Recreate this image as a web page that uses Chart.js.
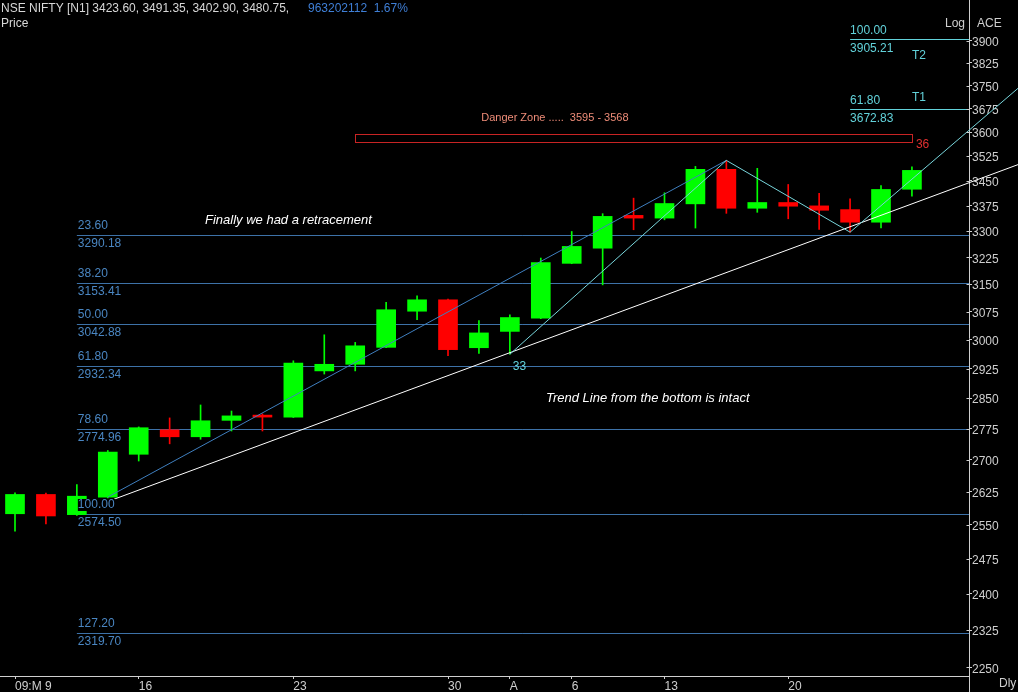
<!DOCTYPE html>
<html><head><meta charset="utf-8">
<script src="https://cdn.jsdelivr.net/npm/chart.js@4.4.1/dist/chart.umd.min.js"></script>
<style>
html,body{margin:0;padding:0;background:#000;overflow:hidden}
#wrap{position:relative;width:1018px;height:692px;background:#000}
canvas{display:block}
</style></head>
<body><div id="wrap"><canvas id="c" width="1018" height="692"></canvas></div>
<script>
// ---- data (NSE NIFTY [N1], daily) ----
const dates  = ['2009-03-09','2009-03-10','2009-03-12','2009-03-13','2009-03-16','2009-03-17','2009-03-18','2009-03-19','2009-03-20','2009-03-23',
                '2009-03-24','2009-03-25','2009-03-26','2009-03-27','2009-03-30','2009-03-31','2009-04-01','2009-04-02','2009-04-06','2009-04-08',
                '2009-04-09','2009-04-13','2009-04-15','2009-04-16','2009-04-17','2009-04-20','2009-04-21','2009-04-22','2009-04-23','2009-04-24'];
const opens  = [2575,2619,2573,2613,2713,2772,2755,2795,2807,2803, 2919,2936,2980,3076,3107,2979,3022,3057,3208,3251, 3346,3338,3380,3484,3367,3384,3374,3363,3326,3423.60];
const highs  = [2623,2622,2642,2722,2779,2801,2833,2818,2811,2945, 3013,2993,3100,3118,3109,3051,3066,3223,3299,3351, 3397,3413,3493,3511.3,3487,3438,3411,3395,3435,3491.35];
const lows   = [2536,2552,2571,2611,2697,2738,2749,2769,2769,2802, 2911,2919,2979,3053,2958,2964,2962,3056,3207,3148, 3304,3333,3309,3352,3355,3336,3305,3297,3309,3402.90];
const closes = [2619,2570,2615,2718,2777,2755,2794,2806,2803,2939, 2936,2984,3080,3107,2974,3018,3059,3210,3256,3343, 3338,3381,3484,3367,3384,3373,3361,3326,3423,3480.75];

const xTickIndex  = [0,4,9,14,16,18,21,25];
const xTickLabels = ['09:M 9','16','23','30','A','6','13','20'];
const yTicks = [2250,2325,2400,2475,2550,2625,2700,2775,2850,2925,3000,3075,3150,3225,3300,3375,3450,3525,3600,3675,3750,3825,3900];

const fibLevels = ['23.60','38.20','50.00','61.80','78.60','100.00','127.20'];
const fibPrices = [3290.18,3153.41,3042.88,2932.34,2774.96,2574.50,2319.70];
const fibStartIndex = 2;

const targetLevels = ['100.00','61.80'];
const targetPrices = [3905.21,3672.83];
const targetNames  = ['T2','T1'];
const targetStartIndex = 27;

const dangerZone = [3595,3568];
const dangerRange = [11,29];

const zigzagX = [16,23,27,29];
const zigzagY = [2962,3511.3,3297,3454];
const channelX = [3,23];
const channelY = [2613,3511.3];
const trendX = [3.2,16];
const trendY = [2608,2966];

const FONT = "'Liberation Sans', Arial, sans-serif";
const GREY = '#cfcfcf';
const FIB_LINE = '#3d72a8';
const FIB_TEXT = '#4a86c2';
const CYAN = '#62d2da';

const bodyData = opens.map((o,i)=>({x:i, y:[o, closes[i]]}));
const wickData = opens.map((o,i)=>({x:i, y:[lows[i], highs[i]]}));
const candleColors = opens.map((o,i)=> closes[i] >= o ? '#00ff00' : '#ff0000');

function txt(ctx, s, x, y, color, size, align, italic){
  ctx.save();
  ctx.font = (italic?'italic ':'') + size + 'px ' + FONT;
  ctx.fillStyle = color;
  ctx.textAlign = align || 'left';
  ctx.textBaseline = 'middle';
  ctx.fillText(s, x, y);
  ctx.restore();
}
function boxedTxt(ctx, s, x, y, color){
  ctx.save();
  ctx.font = '12px ' + FONT;
  const w = ctx.measureText(s).width;
  ctx.fillStyle = '#000';
  ctx.fillRect(x, y-6, w+1, 12);
  ctx.fillStyle = color;
  ctx.textAlign = 'left';
  ctx.textBaseline = 'middle';
  ctx.fillText(s, x, y);
  ctx.restore();
}

const overlay = {
  id:'overlay',
  beforeDatasetsDraw(chart){
    const ctx = chart.ctx, xs = chart.scales.x, ys = chart.scales.y, ca = chart.chartArea;
    ctx.save();
    ctx.lineWidth = 1;
    ctx.strokeStyle = FIB_LINE;
    fibPrices.forEach(p=>{
      const y = Math.round(ys.getPixelForValue(p)) + 0.5;
      ctx.beginPath(); ctx.moveTo(xs.getPixelForValue(fibStartIndex), y); ctx.lineTo(ca.right, y); ctx.stroke();
    });
    ctx.strokeStyle = CYAN;
    targetPrices.forEach(p=>{
      const y = Math.round(ys.getPixelForValue(p)) + 0.5;
      ctx.beginPath(); ctx.moveTo(xs.getPixelForValue(targetStartIndex), y); ctx.lineTo(ca.right, y); ctx.stroke();
    });
    ctx.strokeStyle = '#c82424';
    const x1 = Math.round(xs.getPixelForValue(dangerRange[0])) + 0.5;
    const x2 = Math.round(xs.getPixelForValue(dangerRange[1])) + 0.5;
    const y1 = Math.round(ys.getPixelForValue(dangerZone[0])) + 0.5;
    const y2 = Math.round(ys.getPixelForValue(dangerZone[1])) + 0.5;
    ctx.strokeRect(x1, y1, x2-x1, y2-y1);
    ctx.restore();
  },
  afterDatasetsDraw(chart){
    const ctx = chart.ctx, xs = chart.scales.x, ys = chart.scales.y;
    const W = chart.width;
    const P = (i,v)=>[xs.getPixelForValue(i), ys.getPixelForValue(v)];
    ctx.save();
    ctx.lineWidth = 1;
    ctx.strokeStyle = '#3f7fbf';
    let a = P(channelX[0], channelY[0]), b = P(channelX[1], channelY[1]);
    ctx.beginPath(); ctx.moveTo(a[0],a[1]); ctx.lineTo(b[0],b[1]); ctx.stroke();
    ctx.strokeStyle = '#ffffff';
    a = P(trendX[0], trendY[0]); b = P(trendX[1], trendY[1]);
    let s = (b[1]-a[1])/(b[0]-a[0]);
    ctx.beginPath(); ctx.moveTo(a[0],a[1]); ctx.lineTo(W, a[1] + s*(W-a[0])); ctx.stroke();
    ctx.strokeStyle = '#78d6dc';
    const pts = zigzagX.map((x,i)=>P(x, zigzagY[i]));
    ctx.beginPath(); ctx.moveTo(pts[0][0], pts[0][1]);
    for (let i=1;i<pts.length;i++) ctx.lineTo(pts[i][0], pts[i][1]);
    const pa = pts[pts.length-2], pb = pts[pts.length-1];
    s = (pb[1]-pa[1])/(pb[0]-pa[0]);
    ctx.lineTo(W, pb[1] + s*(W-pb[0]));
    ctx.stroke();
    ctx.restore();

    const fx = xs.getPixelForValue(fibStartIndex) + 1;
    fibPrices.forEach((p,i)=>{
      const y = ys.getPixelForValue(p);
      boxedTxt(ctx, fibLevels[i], fx, y-9, FIB_TEXT);
      boxedTxt(ctx, p.toFixed(2), fx, y+9, FIB_TEXT);
    });
    const tx = xs.getPixelForValue(targetStartIndex);
    targetPrices.forEach((p,i)=>{
      const y = ys.getPixelForValue(p);
      txt(ctx, targetLevels[i], tx, y-9, CYAN, 12);
      txt(ctx, p.toFixed(2), tx, y+9, CYAN, 12);
    });
    const tnx = xs.getPixelForValue(dangerRange[1]);
    txt(ctx, targetNames[0], tnx, ys.getPixelForValue(targetPrices[0]) + 16, CYAN, 12);
    txt(ctx, targetNames[1], tnx, ys.getPixelForValue(targetPrices[1]) - 12, CYAN, 12);

    const dzTop = ys.getPixelForValue(dangerZone[0]);
    txt(ctx, 'Danger Zone .....  ' + dangerZone[0] + ' - ' + dangerZone[1], xs.getPixelForValue(dangerRange[0]) + 126, dzTop - 16, '#ee8c78', 11);
    txt(ctx, '36', xs.getPixelForValue(dangerRange[1]) + 4, ys.getPixelForValue(dangerZone[1]) + 3, '#e03030', 12);
    txt(ctx, '33', xs.getPixelForValue(zigzagX[0]) + 3, ys.getPixelForValue(zigzagY[0]) + 12, CYAN, 12);

    txt(ctx, 'Finally we had a retracement', 205, 220, '#ffffff', 13, 'left', true);
    txt(ctx, 'Trend Line from the bottom is intact', 546, 398, '#ffffff', 13, 'left', true);
  },
  afterDraw(chart){
    const ctx = chart.ctx, ys = chart.scales.y, ca = chart.chartArea;
    ctx.save();
    ctx.strokeStyle = GREY; ctx.lineWidth = 1;
    const ax = Math.round(ca.right) + 0.5;
    ctx.beginPath(); ctx.moveTo(ax, ca.bottom); ctx.lineTo(ax, chart.height); ctx.stroke();
    yTicks.forEach(v=>{
      const y = Math.round(ys.getPixelForValue(v)) + 0.5;
      ctx.beginPath(); ctx.moveTo(ax-3, y); ctx.lineTo(ax, y); ctx.stroke();
    });
    ctx.restore();
    const head = 'NSE NIFTY [N1] ' + opens[29].toFixed(2) + ', ' + highs[29].toFixed(2) + ', ' + lows[29].toFixed(2) + ', ' + closes[29].toFixed(2) + ',';
    txt(ctx, head, 1, 9, '#d8d8d8', 12);
    txt(ctx, '963202112  1.67%', 308, 9, '#3f7fd6', 12);
    txt(ctx, 'Price', 1, 24, '#d8d8d8', 12);
    txt(ctx, 'Log', 965, 24, GREY, 12, 'right');
    txt(ctx, 'ACE', 977, 24, GREY, 12);
    txt(ctx, 'Dly', 999, 684, GREY, 12);
  }
};

new Chart(document.getElementById('c').getContext('2d'), {
  type:'bar',
  data:{datasets:[
    {label:'Body', data:bodyData, backgroundColor:candleColors, barThickness:19, grouped:false, order:0, minBarLength:2, borderWidth:0},
    {label:'Wick', data:wickData, backgroundColor:candleColors, barThickness:1, grouped:false, order:1, borderWidth:0}
  ]},
  options:{
    responsive:false, animation:false, devicePixelRatio:1,
    layout:{padding:0},
    events:[],
    plugins:{legend:{display:false}, tooltip:{enabled:false}},
    scales:{
      x:{type:'linear', min:-0.485, max:30.845, position:'bottom', offset:false, bounds:'data',
        afterBuildTicks:s=>{ s.ticks = xTickIndex.map(v=>({value:v})); },
        afterFit:s=>{ s.height = 16; s.paddingLeft = 0; s.paddingRight = 0; },
        ticks:{autoSkip:false, maxRotation:0, minRotation:0, align:'start', padding:0, color:GREY,
          font:{family:FONT, size:12},
          callback:(v)=>{ const k = xTickIndex.indexOf(v); return k>=0 ? xTickLabels[k] : ''; }},
        grid:{offset:false, drawOnChartArea:false, drawTicks:true, tickLength:3, color:GREY},
        border:{display:true, color:GREY}
      },
      y:{type:'logarithmic', position:'right', min:2233.2, max:4042.3, bounds:'data',
        afterBuildTicks:s=>{ s.ticks = yTicks.map(v=>({value:v})); },
        afterFit:s=>{ s.width = 49; s.paddingTop = 0; s.paddingBottom = 0; },
        ticks:{autoSkip:false, padding:0, labelOffset:2, color:GREY, font:{family:FONT, size:12},
          callback:(v)=>String(v)},
        grid:{offset:false, drawOnChartArea:false, drawTicks:true, tickLength:3, color:GREY},
        border:{display:true, color:GREY}
      }
    }
  },
  plugins:[overlay]
});
</script>
</body></html>
